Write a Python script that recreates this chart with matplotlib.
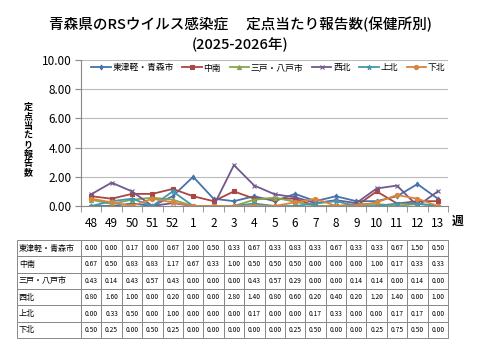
import matplotlib
matplotlib.use("Agg")
import matplotlib.pyplot as plt

plt.rcParams['font.family'] = ['Noto Sans CJK JP', 'DejaVu Sans']

weeks = ["48", "49", "50", "51", "52", "1", "2", "3", "4", "5", "6",
         "7", "8", "9", "10", "11", "12", "13"]
regions = ["東津軽・青森市", "中南", "三戸・八戸市", "西北", "上北", "下北"]
higashi = [0.00, 0.00, 0.17, 0.00, 0.67, 2.00, 0.50, 0.33, 0.67, 0.33, 0.83,
           0.33, 0.67, 0.33, 0.33, 0.67, 1.50, 0.50]
chunan = [0.67, 0.50, 0.83, 0.83, 1.17, 0.67, 0.33, 1.00, 0.50, 0.50, 0.50,
          0.00, 0.00, 0.00, 1.00, 0.17, 0.33, 0.33]
sannohe = [0.43, 0.14, 0.43, 0.57, 0.43, 0.00, 0.00, 0.00, 0.43, 0.57, 0.29,
           0.00, 0.00, 0.14, 0.14, 0.00, 0.14, 0.00]
seihoku = [0.80, 1.60, 1.00, 0.00, 0.20, 0.00, 0.00, 2.80, 1.40, 0.80, 0.60,
           0.20, 0.40, 0.20, 1.20, 1.40, 0.00, 1.00]
kamikita = [0.00, 0.33, 0.50, 0.00, 1.00, 0.00, 0.00, 0.00, 0.17, 0.00, 0.00,
            0.17, 0.33, 0.00, 0.00, 0.17, 0.17, 0.00]
shimokita = [0.50, 0.25, 0.00, 0.50, 0.25, 0.00, 0.00, 0.00, 0.00, 0.00, 0.25,
             0.50, 0.00, 0.00, 0.25, 0.75, 0.50, 0.00]
series = [higashi, chunan, sannohe, seihoku, kamikita, shimokita]

colors = ["#4572A7", "#AA4643", "#89A54E", "#71588F", "#4198AF", "#DB843D"]
markers = ["d", "s", "^", "x", "*", "o"]
msizes = [2.5, 3, 3, 3.5, 3.5, 3]

fig = plt.figure(figsize=(4.8, 3.6), dpi=100)
ax = fig.add_axes([81/480, 1-206/360, (448-81)/480, (206-60)/360])

x = list(range(len(weeks)))
for name, vals, c, m, ms in zip(regions, series, colors, markers, msizes):
    ax.plot(x, vals, color=c, marker=m, markersize=ms, linewidth=1.3,
            label=name, markeredgewidth=0.8)

ax.set_xlim(-0.5, len(weeks) - 0.5)
ax.set_ylim(0, 10)
ax.set_yticks([0, 2, 4, 6, 8, 10])
ax.set_yticklabels(["%.2f" % v for v in [0, 2, 4, 6, 8, 10]], fontsize=8.5)
ax.set_xticks(x)
ax.set_xticklabels(weeks, fontsize=8.5)
ax.set_xticks([i - 0.5 for i in range(len(weeks) + 1)], minor=True)
ax.tick_params(axis="x", which="major", length=0, pad=8)
ax.tick_params(axis="x", which="minor", length=4, color="#888888")
ax.tick_params(axis="y", length=4, color="#888888", pad=3)
ax.grid(axis="y", color="#BBBBBB", linewidth=0.8)
ax.set_axisbelow(True)
for s in ["top", "right"]:
    ax.spines[s].set_visible(False)
ax.spines["left"].set_color("#888888")
ax.spines["bottom"].set_color("#888888")

ax.legend(loc="upper center", ncol=6, fontsize=6.3, frameon=False,
          bbox_to_anchor=(0.51, 1.03), handlelength=2.2, columnspacing=1.0,
          handletextpad=0.2)

fig.text(0.5, 1-24/360, "青森県のRSウイルス感染症　 定点当たり報告数(保健所別)",
         ha="center", va="center", fontsize=10.5, fontweight="medium")
fig.text(0.5, 1-45/360, "(2025-2026年)", ha="center", va="center",
         fontsize=10.5, fontweight="medium")
fig.text(28/480, 1-140/360, "\n".join("定点当たり報告数"), ha="center",
         va="center", fontsize=6.5, fontweight="bold", linespacing=1.05)
fig.text(458/480, 1-221/360, "週", ha="center", va="center",
         fontsize=8.5, fontweight="bold")

# table under the chart
tax = fig.add_axes([17/480, 1-338/360, (448-17)/480, (338-240)/360])
tax.axis("off")
cells = [[name] + ["%.2f" % v for v in vals] for name, vals in zip(regions, series)]
first = (81-17)/(448-17)
rest = (1 - first) / len(weeks)
tbl = tax.table(cellText=cells, colWidths=[first] + [rest]*len(weeks),
                loc="center", bbox=[0, 0, 1, 1], cellLoc="center")
tbl.auto_set_font_size(False)
tbl.set_fontsize(4.8)
for (r, c), cell in tbl.get_celld().items():
    cell.set_edgecolor("#888888")
    cell.set_linewidth(0.7)
    if c == 0:
        cell.set_text_props(ha="left", fontsize=5.8)
        cell.PAD = 0.03

fig.savefig("out.png", dpi=100)
